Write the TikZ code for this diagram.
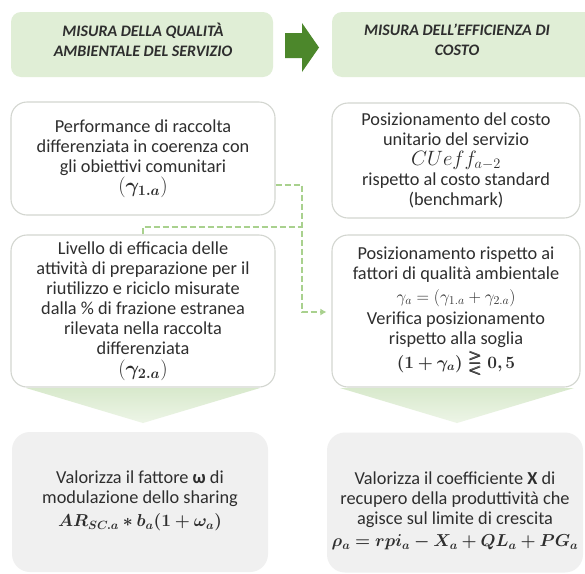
\documentclass[tikz,border=0pt]{standalone}
\usepackage{amsmath,amssymb}
\usepackage{bm}
\usepackage[no-math]{fontspec}
\setmainfont{Carlito}
\usetikzlibrary{arrows.meta}
\definecolor{hdrgreen}{HTML}{E0EED6}
\definecolor{arrgreen}{HTML}{4C872B}
\definecolor{dashgreen}{HTML}{A9D18E}
\definecolor{boxline}{HTML}{D3D6D0}
\definecolor{graybox}{HTML}{F0F0F0}
\definecolor{txt}{HTML}{2E2E2E}
\definecolor{dtop}{HTML}{D8E9CC}
\definecolor{dbot}{HTML}{EDF5E7}
\newcommand{\bodyfnt}{\fontsize{18.3}{20}\selectfont}
\newcommand{\hdrfnt}{\fontsize{16}{20}\selectfont\bfseries\itshape}
\newcommand{\bigmath}[1]{{\fontsize{20.74}{20}\selectfont #1}}
\tikzset{
  hdrbox/.style={fill=hdrgreen, rounded corners=10pt, inner sep=0pt},
  wbox/.style={draw=boxline, line width=1.1pt, fill=white, rounded corners=16pt,
    inner sep=0pt, align=center, font=\bodyfnt, text=txt},
  gbox/.style={fill=graybox, rounded corners=18pt, inner sep=0pt},
  btxt/.style={align=center, font=\bodyfnt, text=txt, inner sep=0pt},
  htxt/.style={align=center, font=\hdrfnt, text=txt, inner sep=0pt},
  dashcon/.style={draw=dashgreen, line width=2pt, dash pattern=on 6pt off 3pt},
  downarr/.style={top color=dtop, bottom color=dbot, draw=none}
}
\begin{document}
\begin{tikzpicture}[x=1pt,y=-1pt]
\useasboundingbox (0,0) rectangle (585,573);
\fill[white] (0,0) rectangle (585,573);
% headers
\node[hdrbox, minimum width=262pt, minimum height=65pt] (h1) at (142,44.5) {};
\node[hdrbox, minimum width=265pt, minimum height=65pt] (h2) at (464.5,44.5) {};
\node[htxt] (h1t) at (143,40) {MISURA DELLA QUALITÀ\\AMBIENTALE DEL SERVIZIO};
\node[htxt] (h2t) at (457,40) {MISURA DELL’EFFICIENZA DI\\COSTO};
% big arrow
\fill[arrgreen] (285,33) -- (302,33) -- (302,23) -- (319,47.5) -- (302,72) -- (302,58) -- (285,58) -- cycle;
% down arrows
\shade[downarr] (26,388) -- (260,388) -- (143,423) -- cycle;
\shade[downarr] (340,388) -- (574,388) -- (457,423) -- cycle;
% white boxes
\node[wbox, minimum width=264pt, minimum height=113pt] (b1L) at (143,158.5)
  {Performance di raccolta\\differenziata in coerenza con\\gli obiettivi comunitari\\\bigmath{$(\bm{\gamma_{1.a}})$}};
\node[wbox, minimum width=248pt, minimum height=115pt] (b1R) at (456,160.5)
  {Posizionamento del costo\\unitario del servizio\\\bigmath{$CUeff_{a-2}$}\\rispetto al costo standard\\(benchmark)};
\node[wbox, minimum width=264pt, minimum height=152pt] (b2L) at (143,311)
  {Livello di efficacia delle\\attività di preparazione per il\\riutilizzo e riciclo misurate\\dalla \% di frazione estranea\\rilevata nella raccolta\\differenziata\\[1pt]\bigmath{$(\bm{\gamma_{2.a}})$}};
\node[wbox, minimum width=248pt, minimum height=152pt] (b2R) at (456,311)
  {Posizionamento rispetto ai\\fattori di qualità ambientale\\[3pt]$\gamma_a=(\gamma_{1.a}+\gamma_{2.a})$\\[2pt]Verifica posizionamento\\rispetto alla soglia\\[4pt]$\bm{(1+\gamma_a)\gtreqless 0,5}$};
% gray boxes
\node[gbox, minimum width=256pt, minimum height=140pt] (g1) at (140,502) {};
\node[gbox, minimum width=256pt, minimum height=140pt] (g2) at (455,502.5) {};
\node[btxt] (g1t) at (140,501)
  {Valorizza il fattore \textbf{ω} di\\modulazione dello sharing\\[3pt]$\bm{AR_{SC.a}\ast b_a(1+\omega_a)}$};
\node[btxt] (g2t) at (455,511)
  {Valorizza il coefficiente \textbf{X} di\\recupero della produttività che\\agisce sul limite di crescita\\[2pt]$\bm{\rho_a=rpi_a-X_a+QL_a+PG_a}$};
% dashed connectors
\coordinate (j1) at (302,185);
\coordinate (j2) at (302,312);
\coordinate (j3) at (302,227);
\draw[dashcon, -{Latex[length=6pt,width=7pt]}, shorten >=5pt]
  (b1L.east |- j1) -- (j1) -- (j2) -- (b2R.west |- j2);
\draw[dashcon] (b2L.north) -- (b2L.north |- j3) -- (j3);
\end{tikzpicture}
\end{document}
